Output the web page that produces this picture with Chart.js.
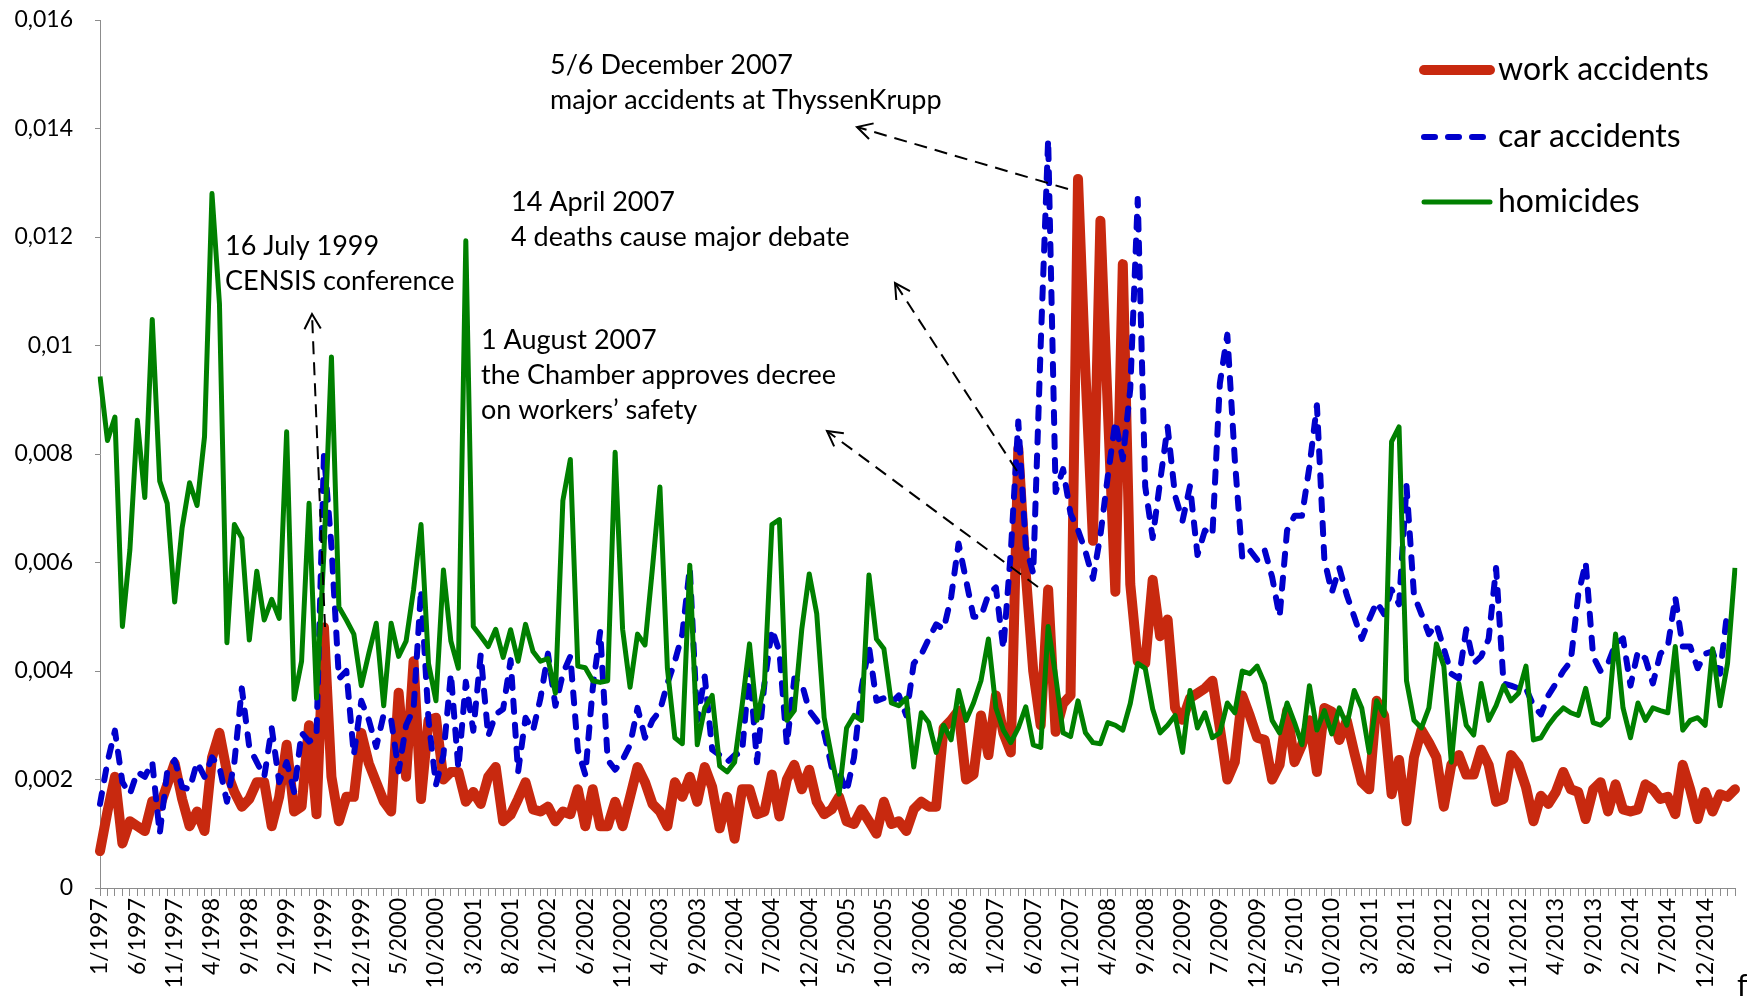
<!DOCTYPE html>
<html>
<head>
<meta charset="utf-8">
<script src="https://cdn.jsdelivr.net/npm/chart.js@4.4.1/dist/chart.umd.min.js"></script>
<style>
  html, body { margin: 0; padding: 0; background: #fff; }
  #wrap { width: 1747px; height: 1000px; }
</style>
</head>
<body>
<div id="wrap"><canvas id="chart" width="1747" height="1000"></canvas></div>
<script>
// monthly values, per thousand (axis labels show them as 0,002 etc.)
const workAccidents = [
  0.68, 1.41, 2.05, 0.82, 1.23, 1.14, 1.05, 1.6, 1.5, 1.9, 2.3, 1.64,
  1.14, 1.41, 1.05, 2.4, 2.86, 2.14, 1.77, 1.5, 1.64, 1.95, 1.95, 1.14,
  1.68, 2.64, 1.41, 1.5, 3.0, 1.36, 4.8, 2.05, 1.23, 1.68, 1.68, 2.86,
  2.3, 1.95, 1.6, 1.41, 3.6, 2.05, 4.18, 1.64, 3.09, 3.14, 2.0, 2.14,
  2.14, 1.59, 1.77, 1.55, 2.05, 2.23, 1.23, 1.35, 1.64, 1.95, 1.45, 1.41,
  1.5, 1.23, 1.41, 1.36, 1.82, 1.14, 1.82, 1.14, 1.14, 1.59, 1.14, 1.68,
  2.23, 1.95, 1.55, 1.41, 1.14, 1.95, 1.68, 2.05, 1.59, 2.23, 1.86, 1.1,
  1.68, 0.91, 1.82, 1.82, 1.36, 1.41, 2.09, 1.32, 2.0, 2.27, 1.82, 2.18,
  1.59, 1.36, 1.45, 1.68, 1.23, 1.18, 1.45, 1.23, 1.0, 1.59, 1.18, 1.23,
  1.05, 1.45, 1.59, 1.5, 1.5, 2.95, 3.09, 3.27, 2.0, 2.09, 3.18, 2.45,
  3.55, 2.86, 2.5, 8.1, 5.8, 4.0, 3.0, 5.5, 2.88, 3.4, 3.55, 13.07,
  9.5, 6.4, 12.3, 8.8, 5.46, 11.5, 5.6, 4.18, 4.14, 5.68, 4.64, 4.95,
  3.32, 3.1, 3.5, 3.59, 3.68, 3.82, 2.95, 2.0, 2.32, 3.55, 3.18, 2.77,
  2.73, 2.0, 2.27, 3.27, 2.32, 2.64, 3.09, 2.14, 3.32, 3.25, 2.73, 3.09,
  2.5, 1.95, 1.82, 3.45, 3.18, 1.73, 2.36, 1.23, 2.41, 2.91, 2.68, 2.41,
  1.5, 2.27, 2.45, 2.09, 2.09, 2.55, 2.27, 1.59, 1.64, 2.45, 2.27, 1.86,
  1.23, 1.7, 1.55, 1.77, 2.14, 1.82, 1.77, 1.27, 1.82, 1.95, 1.41, 1.91,
  1.45, 1.41, 1.45, 1.91, 1.82, 1.64, 1.68, 1.36, 2.27, 1.82, 1.27, 1.77,
  1.41, 1.73, 1.68, 1.82
];

const carAccidents = [
  1.55, 2.32, 2.9, 1.95, 1.73, 2.14, 2.05, 2.32, 1.0, 2.14, 2.36, 1.86,
  1.82, 2.32, 2.05, 2.41, 2.23, 1.59, 2.32, 3.68, 2.59, 2.32, 2.05, 2.95,
  1.95, 2.32, 1.77, 2.86, 2.7, 2.8, 8.0, 6.3, 3.86, 4.0, 2.45, 3.45,
  3.1, 2.6, 3.2, 3.1, 2.15, 3.0, 3.3, 5.5, 3.1, 1.9, 2.45, 3.95,
  2.2, 3.8, 2.9, 4.3, 2.8, 3.2, 3.3, 4.2, 2.14, 3.14, 2.9, 3.5,
  4.32, 3.36, 3.95, 4.27, 2.55, 2.09, 3.68, 4.73, 2.36, 2.18, 2.36, 2.64,
  3.32, 2.77, 3.09, 3.27, 3.77, 4.18, 4.68, 5.9, 3.09, 3.9, 2.55, 2.45,
  2.32, 2.45, 2.5, 4.05, 2.32, 3.77, 4.77, 4.36, 2.64, 3.86, 3.77, 3.27,
  3.09, 2.86, 2.23, 2.14, 1.77, 2.41, 3.68, 4.45, 3.45, 3.5, 3.41, 3.55,
  3.18, 4.14, 4.3, 4.59, 4.86, 4.77, 5.36, 6.35, 5.68, 5.0, 5.0, 5.41,
  5.54, 4.41, 6.2, 8.6, 6.3, 5.8, 10.0, 13.8, 7.3, 7.72, 6.9, 6.6,
  6.2, 5.7, 6.5, 7.6, 8.6, 7.9, 9.2, 12.7, 7.4, 6.45, 7.5, 8.5,
  7.23, 6.77, 7.41, 6.14, 6.59, 6.5, 9.3, 10.2, 7.9, 6.09, 6.23, 6.05,
  6.23, 5.73, 5.0, 6.59, 6.86, 6.86, 7.77, 8.9, 6.05, 5.45, 5.9, 5.4,
  5.0, 4.59, 4.95, 5.27, 5.05, 5.5, 5.23, 7.41, 5.4, 5.05, 4.68, 4.86,
  4.41, 3.95, 3.86, 4.77, 4.14, 4.27, 4.59, 5.9, 3.77, 3.73, 3.68, 3.68,
  3.36, 3.2, 3.55, 3.77, 4.0, 4.18, 5.4, 6.0, 4.27, 4.0, 4.14, 4.5,
  4.6, 3.73, 4.36, 4.23, 3.77, 4.32, 4.45, 5.36, 4.45, 4.45, 4.05, 4.32,
  4.36, 3.95, 5.14, null
];

const homicides = [
  9.43, 8.25, 8.68, 4.82, 6.23, 8.62, 7.2, 10.48, 7.5, 7.09, 5.27, 6.64,
  7.47, 7.05, 8.32, 12.8, 10.77, 4.52, 6.7, 6.45, 4.57, 5.84, 4.94, 5.32,
  4.97, 8.41, 3.48, 4.18, 7.09, 3.5, 6.2, 9.79, 5.18, 4.94, 4.68, 3.73,
  4.32, 4.88, 3.36, 4.88, 4.27, 4.55, 5.5, 6.7, 4.14, 3.45, 5.86, 4.55,
  4.05, 11.93, 4.82, 4.64, 4.45, 4.77, 4.25, 4.76, 4.18, 4.86, 4.36, 4.18,
  4.23, 3.59, 7.14, 7.9, 4.09, 4.06, 3.82, 3.79, 3.82, 8.03, 4.77, 3.7,
  4.68, 4.48, 5.9, 7.39, 4.05, 2.77, 2.66, 5.95, 2.64, 3.32, 3.55, 2.25,
  2.14, 2.32, 3.36, 4.5, 3.09, 3.77, 6.7, 6.79, 3.09, 3.27, 4.77, 5.79,
  5.06, 3.14, 2.41, 1.73, 2.95, 3.18, 3.09, 5.77, 4.59, 4.41, 3.41, 3.36,
  3.5, 2.23, 3.23, 3.05, 2.5, 3.0, 2.73, 3.64, 3.09, 3.41, 3.82, 4.59,
  3.32, 2.91, 2.68, 2.95, 3.34, 2.64, 2.59, 4.82, 3.91, 2.86, 2.79, 3.45,
  2.86, 2.68, 2.66, 3.05, 3.0, 2.91, 3.4, 4.14, 4.05, 3.3, 2.86, 3.0,
  3.18, 2.5, 3.64, 2.95, 3.23, 2.77, 2.86, 3.41, 3.23, 4.0, 3.95, 4.09,
  3.77, 3.09, 2.86, 3.41, 3.05, 2.64, 3.73, 2.91, 3.27, 2.84, 3.32, 3.0,
  3.64, 3.32, 2.5, 3.45, 3.18, 8.23, 8.5, 3.82, 3.09, 2.95, 3.32, 4.5,
  4.09, 2.32, 3.77, 3.0, 2.82, 3.77, 3.09, 3.36, 3.73, 3.45, 3.59, 4.09,
  2.73, 2.77, 3.0, 3.18, 3.32, 3.23, 3.18, 3.68, 3.05, 3.0, 3.14, 4.68,
  3.32, 2.77, 3.41, 3.09, 3.32, 3.27, 3.23, 4.45, 2.91, 3.09, 3.14, 3.0,
  4.41, 3.36, 4.14, 5.9
];

// one category per month, 1/1997 .. 4/2015
const months = [];
for (let k = 0; k < workAccidents.length; k++) {
  months.push(`${(k % 12) + 1}/${1997 + Math.floor(k / 12)}`);
}

const yTickLabels = ["0", "0,002", "0,004", "0,006", "0,008", "0,01", "0,012", "0,014", "0,016"];

const seriesNames = ["work accidents", "car accidents", "homicides"];
const seriesColors = ["#C8290F", "#0000CC", "#008000"];

const notes = [
  { x: 550, y: 65, lines: ["5/6 December 2007", "major accidents at ThyssenKrupp"] },
  { x: 511, y: 202, lines: ["14 April 2007", "4 deaths cause major debate"] },
  { x: 225, y: 246, lines: ["16 July 1999", "CENSIS conference"] },
  { x: 481, y: 340, lines: ["1 August 2007", "the Chamber approves decree", "on workers\u2019 safety"] }
];

const arrows = [
  { from: [1068, 189], to: [857, 127] },
  { from: [1017, 471], to: [895, 283] },
  { from: [1038, 587], to: [827, 431] },
  { from: [325, 627], to: [312, 314] }
];

const FONT = "Lato, 'Open Sans', sans-serif";

const overlay = {
  id: "overlay",
  afterDraw(chart) {
    const ctx = chart.ctx;
    ctx.save();

    // notes
    ctx.fillStyle = "#000";
    ctx.font = `27px ${FONT}`;
    ctx.textBaseline = "middle";
    ctx.textAlign = "left";
    notes.forEach(n => n.lines.forEach((t, k) => ctx.fillText(t, n.x, n.y + k * 35)));

    // dashed arrows with open heads
    ctx.strokeStyle = "#000";
    ctx.lineWidth = 2;
    arrows.forEach(a => {
      const [x1, y1] = a.from;
      const [x2, y2] = a.to;
      ctx.setLineDash([13, 8]);
      ctx.beginPath();
      ctx.moveTo(x1, y1);
      ctx.lineTo(x2, y2);
      ctx.stroke();
      ctx.setLineDash([]);
      const ang = Math.atan2(y2 - y1, x2 - x1);
      const len = 17;
      ctx.beginPath();
      ctx.moveTo(x2 - len * Math.cos(ang - 0.5), y2 - len * Math.sin(ang - 0.5));
      ctx.lineTo(x2, y2);
      ctx.lineTo(x2 - len * Math.cos(ang + 0.5), y2 - len * Math.sin(ang + 0.5));
      ctx.stroke();
    });

    // legend
    const rows = [70, 137, 202];
    chart.data.datasets.forEach(ds => {
      const k = seriesNames.indexOf(ds.label);
      const y = rows[k];
      ctx.strokeStyle = ds.borderColor;
      ctx.lineWidth = ds.borderWidth;
      ctx.lineCap = "round";
      ctx.setLineDash(ds.borderDash || []);
      ctx.beginPath();
      ctx.moveTo(1424, y);
      ctx.lineTo(k === 1 ? 1484 : 1490, y);
      ctx.stroke();
      ctx.setLineDash([]);
      ctx.fillStyle = "#000";
      ctx.font = `32px ${FONT}`;
      ctx.fillText(ds.label, 1498, y);
    });

    // cut-off glyph at the bottom right edge
    ctx.font = `30px ${FONT}`;
    ctx.fillText("f", 1737, 986);

    ctx.restore();
  }
};

function noPadding(scale) {
  scale.paddingTop = 0;
  scale.paddingBottom = 0;
  scale.paddingLeft = 0;
  scale.paddingRight = 0;
}

Chart.defaults.font.family = FONT;
Chart.defaults.color = "#000";

new Chart(document.getElementById("chart"), {
  type: "line",
  data: {
    labels: months,
    datasets: [
      {
        label: seriesNames[0],
        data: workAccidents,
        borderColor: seriesColors[0],
        borderWidth: 10,
        borderJoinStyle: "round",
        borderCapStyle: "round",
        order: 3
      },
      {
        label: seriesNames[1],
        data: carAccidents,
        borderColor: seriesColors[1],
        borderWidth: 6,
        borderDash: [11, 13],
        borderJoinStyle: "round",
        borderCapStyle: "round",
        order: 2
      },
      {
        label: seriesNames[2],
        data: homicides,
        borderColor: seriesColors[2],
        borderWidth: 5,
        borderJoinStyle: "round",
        order: 1
      }
    ]
  },
  options: {
    responsive: false,
    animation: false,
    events: [],
    layout: { padding: { top: 20, right: 12, left: 0, bottom: 0 } },
    elements: { point: { radius: 0 }, line: { tension: 0 } },
    plugins: { legend: { display: false }, tooltip: { enabled: false } },
    scales: {
      x: {
        offset: false,
        grid: { drawOnChartArea: false, color: "#8c8c8c", tickLength: 8 },
        border: { color: "#8c8c8c" },
        ticks: {
          autoSkip: false,
          minRotation: 90,
          maxRotation: 90,
          padding: 2,
          font: { size: 23 },
          callback: (value, index) => (index % 5 === 0 ? months[index] : "")
        },
        afterFit: scale => { scale.height = 112; noPadding(scale); }
      },
      y: {
        min: 0,
        max: 16,
        grid: { drawOnChartArea: false, color: "#8c8c8c", tickLength: 5 },
        border: { color: "#8c8c8c" },
        ticks: {
          stepSize: 2,
          padding: 22,
          font: { size: 23 },
          callback: (value, index) => yTickLabels[index]
        },
        afterFit: scale => { scale.width = 100; noPadding(scale); }
      }
    }
  },
  plugins: [overlay]
});
</script>
</body>
</html>
